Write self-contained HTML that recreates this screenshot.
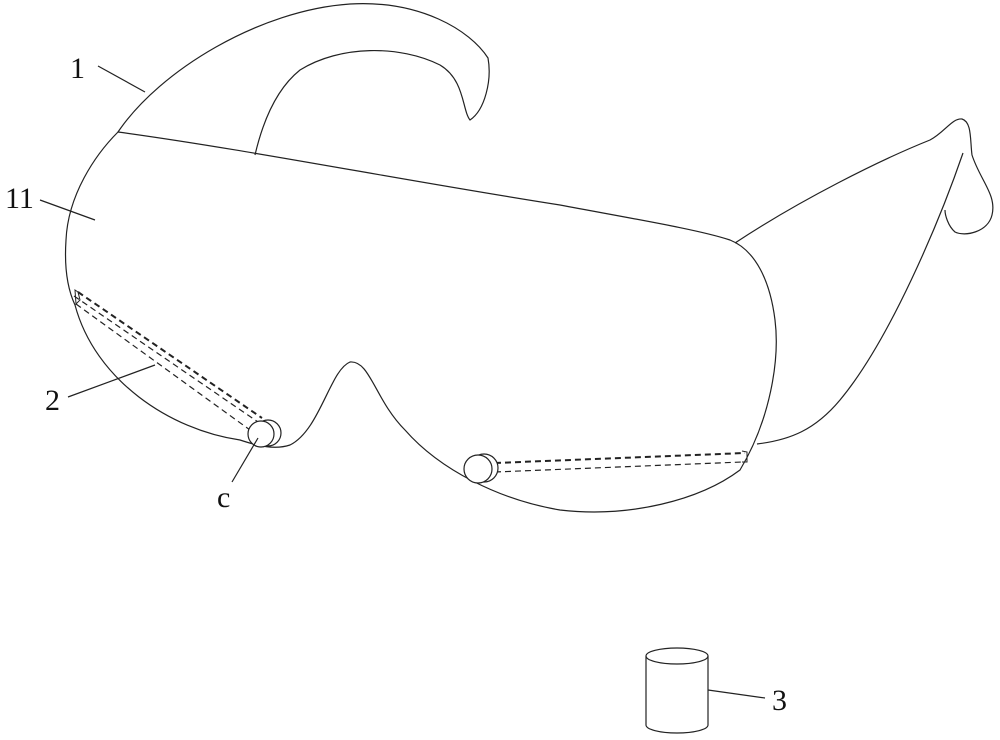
<!DOCTYPE html>
<html><head><style>body{margin:0;background:#fff}svg{display:block}text{font-family:"Liberation Serif",serif;font-size:30px;fill:#111}</style></head>
<body>
<svg width="1000" height="740" viewBox="0 0 1000 740" fill="none" stroke="#222" stroke-width="1.2">
<!-- left strap -->
<path d="M118,132 C160,70 260,10 350,4 C420,0 470,30 488,58 C492,80 485,110 470,120 C462,110 465,80 440,65 C400,45 340,45 300,70 C275,90 262,125 255,155"/>
<!-- right strap -->
<path d="M735,243 C800,200 880,160 930,140 C945,132 952,118 962,119 C972,122 970,140 972,155 C980,180 997,195 992,215 C988,232 965,237 955,232 C948,226 945,215 945,210"/>
<path d="M963,153 C940,220 890,340 840,400 C815,430 790,440 757,444"/>
<!-- goggle body -->
<path d="M118,132 C95,155 68,195 66,240 C64,270 68,290 75,305 C95,380 170,430 240,440 C258,446 275,450 290,445 C320,430 330,370 350,362 C370,360 375,400 405,430 C440,470 500,500 560,510 C630,518 700,500 740,470 C770,420 780,360 775,320 C770,280 755,250 730,240 C700,230 640,220 560,205 C400,180 250,150 118,132 Z"/>
<!-- left bar (2) -->
<path d="M75,290 L78,292 L80,300 L76,304 Z" stroke-width="1"/>
<path d="M78,292 L262,418" stroke-dasharray="6,4" stroke-width="2"/>
<path d="M74,296 L258,422" stroke-dasharray="6,4"/>
<path d="M76,304 L250,430" stroke-dasharray="6,4"/>
<circle cx="268" cy="433" r="13" fill="#fff"/>
<circle cx="261" cy="434" r="13" fill="#fff"/>
<!-- right bar -->
<path d="M495,463 L745,453" stroke-dasharray="6,4" stroke-width="2"/>
<path d="M495,472 L742,462" stroke-dasharray="6,4"/>
<path d="M742,451 L747,452 L747,462 L742,462" stroke-width="1"/>
<circle cx="484" cy="468" r="14" fill="#fff"/>
<circle cx="478" cy="469" r="14" fill="#fff"/>
<!-- cylinder 3 -->
<ellipse cx="677" cy="656" rx="31" ry="8"/>
<path d="M646,656 L646,725 A31,8 0 0 0 708,725 L708,656"/>
<!-- leaders -->
<path d="M98,66 L145,92"/>
<path d="M40,200 L95,220"/>
<path d="M68,397 L155,365"/>
<path d="M232,482 L258,438"/>
<path d="M708,690 L765,698"/>
<g stroke="none">
<text x="70" y="78">1</text>
<text x="5" y="208">11</text>
<text x="45" y="410">2</text>
<text x="217" y="507">c</text>
<text x="772" y="710">3</text>
</g>
</svg>
</body></html>
